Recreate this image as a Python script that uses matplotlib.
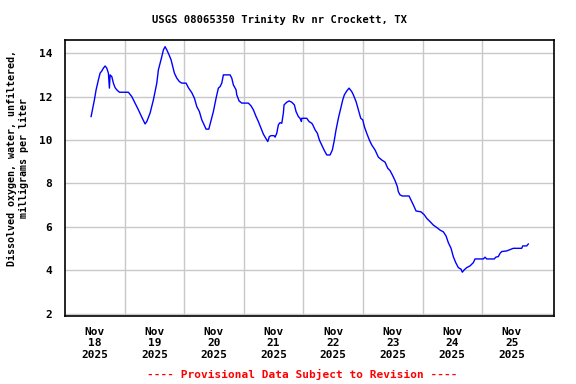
import matplotlib
matplotlib.use("Agg")
import matplotlib.pyplot as plt
from matplotlib.ticker import FixedLocator, NullFormatter, FixedFormatter

# hours since Nov 18 2025 00:00
hours = [10.51, 11.03, 11.84, 12.52, 13.45, 14.13, 14.82, 15.46, 16.15, 16.83, 17.48, 17.88,
         18.16, 18.85, 19.49, 20.18, 20.86, 21.91, 25.53, 26.90, 28.23, 29.56, 30.93, 32.26,
         32.94, 34.27, 35.60, 36.97, 37.61, 38.98, 39.63, 40.31, 41.00, 41.92, 42.73, 43.41,
         44.06, 45.02, 46.07, 47.04, 48.77, 49.69, 51.06, 52.11, 53.08, 54.12, 55.09, 56.02,
         56.82, 57.91, 58.71, 59.76, 60.85, 61.77, 62.46, 63.14, 63.79, 66.49, 67.17, 67.81,
         68.90, 69.18, 70.11, 71.20, 73.86, 74.94, 75.87, 76.96, 77.88, 78.97, 79.90, 80.86,
         81.67, 82.31, 83.00, 84.21, 84.61, 85.29, 85.94, 86.62, 87.31, 87.95, 88.23, 89.32,
         90.25, 91.33, 92.38, 93.06, 93.99, 94.67, 95.20, 95.36, 97.37, 98.30, 98.70, 99.39,
         99.79, 100.72, 101.64, 102.45, 103.41, 104.34, 105.43, 106.76, 107.68, 108.37, 109.17,
         110.10, 111.06, 111.87, 112.51, 113.48, 114.41, 115.49, 116.14, 117.23, 118.15, 119.12,
         119.92, 120.57, 121.53, 122.58, 123.55, 124.88, 126.21, 127.57, 128.90, 129.99, 130.92,
         131.84, 132.93, 133.86, 134.26, 134.94, 135.87, 138.57, 139.66, 140.30, 141.39, 143.40,
         144.73, 145.70, 147.03, 148.36, 149.72, 151.05, 152.38, 153.47, 154.40, 155.48, 156.41,
         157.38, 158.43, 159.51, 160.03, 160.72, 161.80, 163.13, 164.46, 165.15, 168.49, 169.17,
         169.86, 172.92, 173.48, 174.53, 175.22, 175.90, 177.91, 180.57, 183.95, 184.36, 185.97,
         186.61]
oxygen = [11.08, 11.39, 11.85, 12.31, 12.77, 13.08, 13.18, 13.31, 13.41, 13.31, 13.08, 12.39,
          13.00, 12.92, 12.62, 12.41, 12.31, 12.20, 12.20, 12.00, 11.70, 11.39, 11.05, 10.74,
          10.85, 11.24, 11.85, 12.62, 13.23, 13.84, 14.15, 14.30, 14.15, 13.92, 13.69, 13.38,
          13.08, 12.85, 12.69, 12.62, 12.62, 12.41, 12.18, 11.93, 11.54, 11.31, 10.93, 10.70,
          10.50, 10.50, 10.85, 11.31, 11.93, 12.39, 12.46, 12.62, 13.00, 13.00, 12.85, 12.54,
          12.31, 12.08, 11.80, 11.70, 11.70, 11.57, 11.39, 11.08, 10.85, 10.54, 10.27, 10.08,
          9.93, 10.16, 10.20, 10.20, 10.13, 10.31, 10.70, 10.80, 10.77, 11.24, 11.62, 11.74,
          11.80, 11.74, 11.62, 11.31, 11.08, 11.00, 10.85, 11.00, 11.00, 10.85, 10.82, 10.77,
          10.70, 10.47, 10.31, 10.00, 9.77, 9.54, 9.31, 9.31, 9.54, 9.93, 10.47,
          11.00, 11.47, 11.85, 12.08, 12.26, 12.39, 12.23, 12.08, 11.77, 11.39, 11.00,
          10.93, 10.62, 10.31, 10.00, 9.77, 9.54, 9.21, 9.08, 8.98, 8.70, 8.59,
          8.39, 8.13, 7.85, 7.62, 7.47, 7.42, 7.42, 7.16, 7.01, 6.73, 6.69,
          6.55, 6.39, 6.24, 6.08, 5.97, 5.85, 5.77, 5.58, 5.27, 5.01, 4.62,
          4.35, 4.12, 4.05, 3.91, 4.01, 4.12, 4.20, 4.35, 4.52, 4.52, 4.60,
          4.52, 4.52, 4.60, 4.63, 4.78, 4.86, 4.89, 5.01, 5.01, 5.12, 5.12,
          5.21]

day_labels = ["Nov\n18\n2025", "Nov\n19\n2025", "Nov\n20\n2025", "Nov\n21\n2025",
              "Nov\n22\n2025", "Nov\n23\n2025", "Nov\n24\n2025", "Nov\n25\n2025"]
y_ticks = [2, 4, 6, 8, 10, 12, 14]

title = "USGS 08065350 Trinity Rv nr Crockett, TX"
ylabel = "Dissolved oxygen, water, unfiltered,\nmilligrams per liter"
footer = "---- Provisional Data Subject to Revision ----"

mono = "DejaVu Sans Mono"

fig = plt.figure(figsize=(5.76, 3.84), dpi=100)
ax = fig.add_axes([0.112, 0.177, 0.850, 0.719])

ax.plot(hours, oxygen, color="#0000ff", linewidth=1.0)

ax.set_xlim(-0.2, 197)
ax.set_ylim(1.89, 14.61)

midnights = [24 * i for i in range(1, 8)]
noons = [24 * i + 12 for i in range(8)]
ax.xaxis.set_major_locator(FixedLocator(midnights))
ax.xaxis.set_major_formatter(NullFormatter())
ax.xaxis.set_minor_locator(FixedLocator(noons))
ax.xaxis.set_minor_formatter(FixedFormatter(day_labels))
ax.set_yticks(y_ticks)
ax.set_yticklabels([str(v) for v in y_ticks])

ax.grid(True, which="major", color="#c8c8c8", linewidth=1.0)
ax.set_axisbelow(True)
ax.tick_params(axis="both", which="both", length=0)
ax.tick_params(axis="x", which="minor", pad=8)
ax.tick_params(axis="y", pad=9)
for lab in ax.get_xticklabels(minor=True) + ax.get_yticklabels():
    lab.set_fontfamily(mono)
    lab.set_fontweight("bold")
    lab.set_fontsize(8)
for lab in ax.get_xticklabels(minor=True):
    lab.set_linespacing(1.15)

for sp in ax.spines.values():
    sp.set_linewidth(1.2)
    sp.set_color("black")

fig.text(0.486, 0.948, title, ha="center", va="center",
         family=mono, weight="bold", size=7.6)
fig.text(0.031, 0.589, ylabel, ha="center", va="center", rotation=90,
         linespacing=1.3, family=mono, weight="bold", size=7.2)
fig.text(0.524, 0.024, footer, ha="center", va="center", color="red",
         family=mono, weight="bold", size=8)

fig.savefig("out.png", dpi=100)
